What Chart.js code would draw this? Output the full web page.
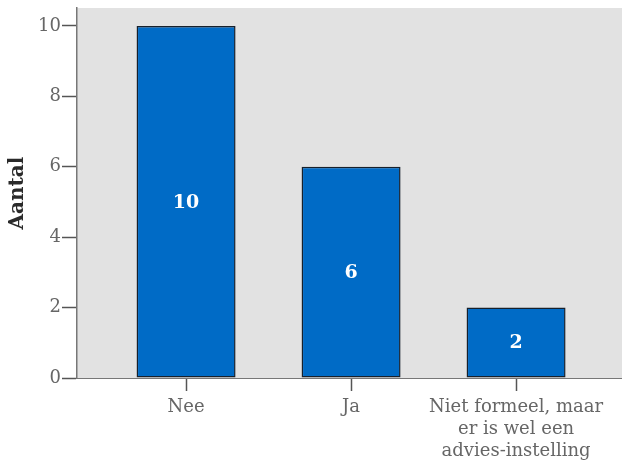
<!DOCTYPE html>
<html>
<head>
<meta charset="utf-8">
<script src="https://cdn.jsdelivr.net/npm/chart.js@4"></script>
<style>
  html, body { margin: 0; padding: 0; background: #fff; }
  #wrap { width: 622px; height: 463px; }
</style>
</head>
<body>
<div id="wrap"><canvas id="myChart" width="622" height="463"></canvas></div>
<script>
// answers and how many times each was given
const categories = [
    ["Nee"],
    ["Ja"],
    ["Niet formeel, maar", "er is wel een", "advies-instelling"]
]
const counts = [10, 6, 2]
const yTicks = [0, 2, 4, 6, 8, 10]

const serif = "'DejaVu Serif', serif"

// grey plot area
const plotBackground = {
    id: "plotBackground",
    beforeDraw(chart) {
        const { ctx, chartArea: a } = chart
        ctx.save()
        ctx.fillStyle = "#e2e2e2"
        ctx.fillRect(a.left, a.top, a.right - a.left, a.bottom - a.top)
        ctx.restore()
    }
}

// count written in the middle of each bar
const barLabels = {
    id: "barLabels",
    afterDatasetsDraw(chart) {
        const { ctx } = chart
        const meta = chart.getDatasetMeta(0)
        ctx.save()
        ctx.fillStyle = "#ffffff"
        ctx.font = "bold 19px " + serif
        ctx.textAlign = "center"
        ctx.textBaseline = "middle"
        meta.data.forEach((bar, i) => {
            const y = (bar.y + bar.base) / 2
            ctx.fillText(String(counts[i]), bar.x, y + 1)
        })
        ctx.restore()
    }
}

const ctx = document.getElementById("myChart")

new Chart(ctx, {
    type: "bar",
    data: {
        datasets: [{
            data: counts.map((c, i) => ({ x: i, y: c })),
            backgroundColor: "#006bc6",
            borderColor: "#16202c",
            borderWidth: 1.5,
            borderSkipped: false,
            barPercentage: 0.6,
            categoryPercentage: 1
        }]
    },
    options: {
        responsive: false,
        animation: false,
        layout: { padding: { top: 8, right: 0, left: 0, bottom: 0 } },
        plugins: {
            legend: { display: false },
            tooltip: { enabled: false }
        },
        scales: {
            x: {
                type: "linear",
                offset: false,
                min: -0.661,
                max: 2.642,
                afterBuildTicks: (scale) => {
                    scale.ticks = categories.map((c, i) => ({ value: i }))
                },
                afterFit: (scale) => {
                    scale.height = 85
                    scale.paddingLeft = 0
                    scale.paddingRight = 0
                },
                ticks: {
                    autoSkip: false,
                    maxRotation: 0,
                    padding: 6,
                    color: "#666",
                    font: { family: serif, size: 18 },
                    callback: (v) => categories[v]
                },
                grid: {
                    offset: false,
                    drawOnChartArea: false,
                    drawTicks: true,
                    tickLength: 13,
                    tickColor: "#555",
                    tickWidth: 1.5
                },
                border: { display: true, color: "#777", width: 1 }
            },
            y: {
                min: 0,
                max: 10.51,
                afterBuildTicks: (scale) => {
                    scale.ticks = yTicks.map(v => ({ value: v }))
                },
                afterFit: (scale) => {
                    scale.width = 77
                    scale.paddingTop = 0
                    scale.paddingBottom = 0
                },
                ticks: {
                    padding: 1,
                    color: "#666",
                    font: { family: serif, size: 18 }
                },
                grid: {
                    drawOnChartArea: false,
                    drawTicks: true,
                    tickLength: 15,
                    tickColor: "#555",
                    tickWidth: 1.5
                },
                border: { display: true, color: "#777", width: 1.5 },
                title: {
                    display: true,
                    text: "Aantal",
                    color: "#2a2a2a",
                    font: { family: serif, size: 20, weight: "bold" },
                    padding: { top: 6, bottom: 0 }
                }
            }
        }
    },
    plugins: [plotBackground, barLabels]
})
</script>
</body>
</html>
